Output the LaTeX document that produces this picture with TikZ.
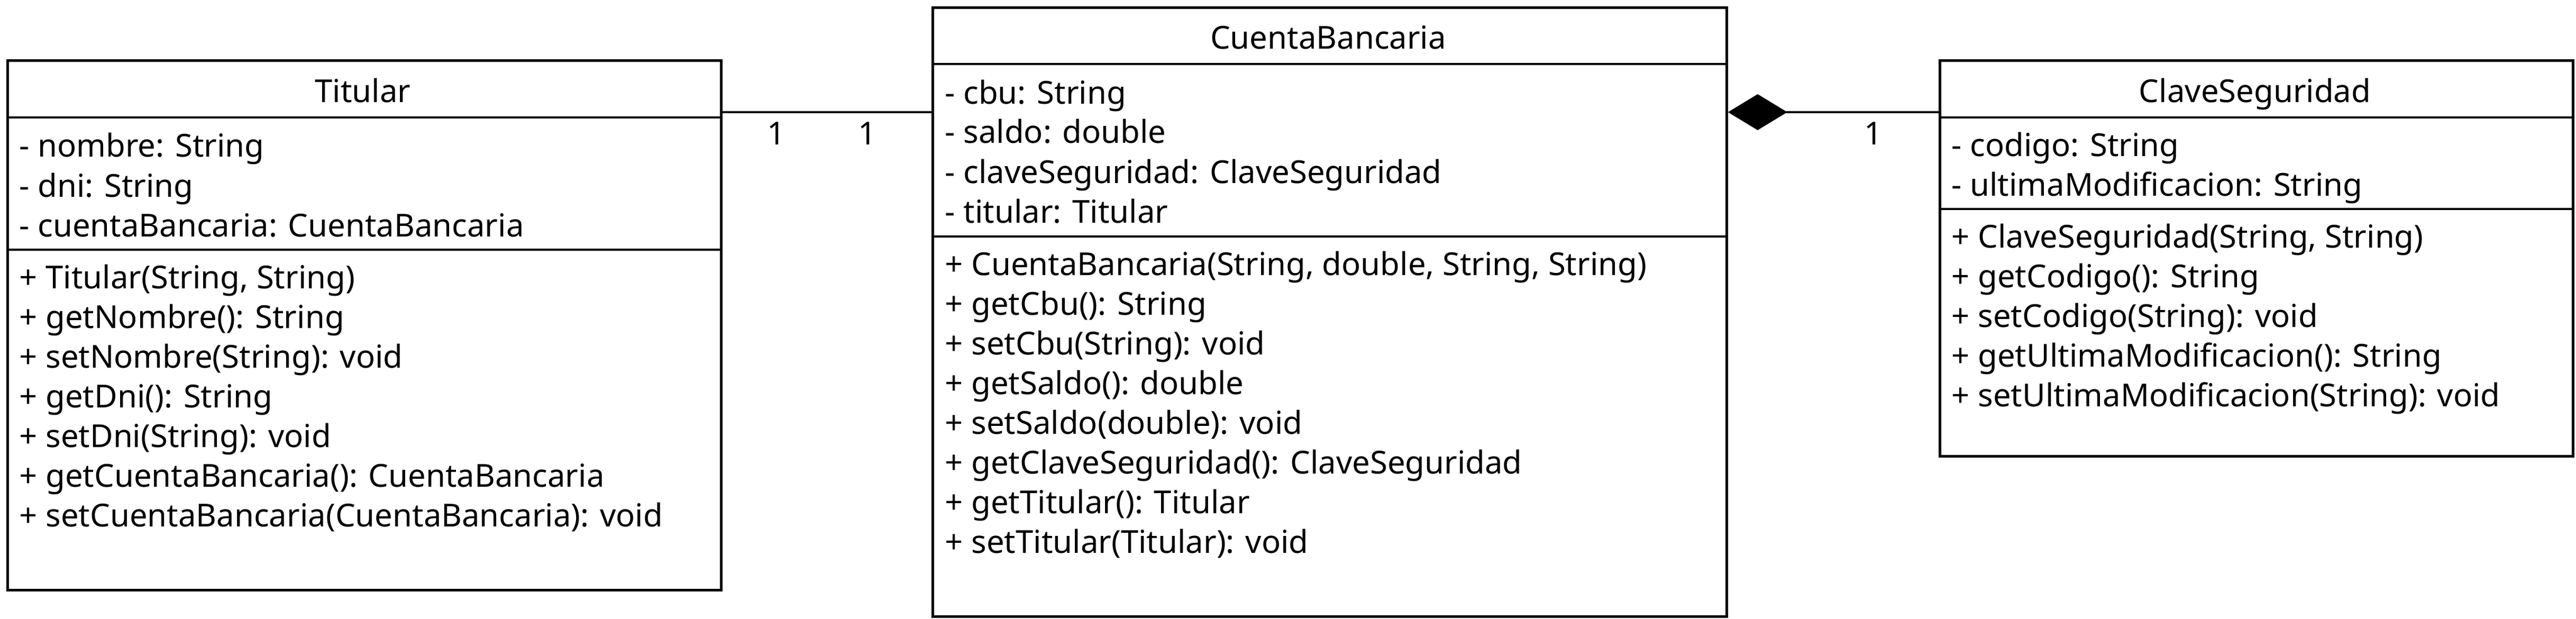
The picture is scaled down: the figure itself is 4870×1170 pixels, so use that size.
\documentclass[tikz,border=0pt]{standalone}
\usepackage{fontspec}
\setmainfont{Noto Sans}
\usepackage{tikz}
\usetikzlibrary{arrows.meta}

\tikzset{
  classbox/.style={draw, line width=1.4pt, anchor=north west, inner sep=0pt},
  classname/.style={anchor=base, inner sep=0pt},
  member/.style={anchor=base west, inner sep=0pt},
  mult/.style={anchor=base, inner sep=0pt},
  sepline/.style={line width=1.4pt},
  assoc/.style={line width=1.4pt},
  compo/.style={line width=1.4pt, -{Diamond[length=1.12cm, width=0.68cm]}}
}

\begin{document}
\begin{tikzpicture}
  [x=0.01cm, y=-0.01cm, font=\fontsize{17}{20}\selectfont] % coordinates are pixels of the picture
  \useasboundingbox (0,0) rectangle (4870,1170);

  % Titular
  \node[classbox, minimum width=13.48cm, minimum height=10cm] (tit) at (12,112) {};
  \node[classname] (tit-name) at (686,193) {Titular};
  \draw[sepline] (tit.west |- 0,222) -- (tit.east |- 0,222);
  \node[member] (tit-a1) at (36,297) {- nombre: String};
  \node[member] (tit-a2) at (36,372) {- dni: String};
  \node[member] (tit-a3) at (36,447) {- cuentaBancaria: CuentaBancaria};
  \draw[sepline] (tit.west |- 0,472) -- (tit.east |- 0,472);
  \node[member] (tit-m1) at (36,545) {+ Titular(String, String)};
  \node[member] (tit-m2) at (36,620) {+ getNombre(): String};
  \node[member] (tit-m3) at (36,695) {+ setNombre(String): void};
  \node[member] (tit-m4) at (36,770) {+ getDni(): String};
  \node[member] (tit-m5) at (36,845) {+ setDni(String): void};
  \node[member] (tit-m6) at (36,920) {+ getCuentaBancaria(): CuentaBancaria};
  \node[member] (tit-m7) at (36,995) {+ setCuentaBancaria(CuentaBancaria): void};

  % CuentaBancaria
  \node[classbox, minimum width=15cm, minimum height=11.5cm] (cb) at (1761,12) {};
  \node[classname] (cb-name) at (2511,93) {CuentaBancaria};
  \draw[sepline] (cb.west |- 0,121) -- (cb.east |- 0,121);
  \node[member] (cb-a1) at (1786,196) {- cbu: String};
  \node[member] (cb-a2) at (1786,271) {- saldo: double};
  \node[member] (cb-a3) at (1786,346) {- claveSeguridad: ClaveSeguridad};
  \node[member] (cb-a4) at (1786,421) {- titular: Titular};
  \draw[sepline] (cb.west |- 0,447) -- (cb.east |- 0,447);
  \node[member] (cb-m1) at (1786,520) {+ CuentaBancaria(String, double, String, String)};
  \node[member] (cb-m2) at (1786,595) {+ getCbu(): String};
  \node[member] (cb-m3) at (1786,670) {+ setCbu(String): void};
  \node[member] (cb-m4) at (1786,745) {+ getSaldo(): double};
  \node[member] (cb-m5) at (1786,820) {+ setSaldo(double): void};
  \node[member] (cb-m6) at (1786,895) {+ getClaveSeguridad(): ClaveSeguridad};
  \node[member] (cb-m7) at (1786,970) {+ getTitular(): Titular};
  \node[member] (cb-m8) at (1786,1045) {+ setTitular(Titular): void};

  % ClaveSeguridad
  \node[classbox, minimum width=11.96cm, minimum height=7.48cm] (cs) at (3665,112) {};
  \node[classname] (cs-name) at (4263,193) {ClaveSeguridad};
  \draw[sepline] (cs.west |- 0,222) -- (cs.east |- 0,222);
  \node[member] (cs-a1) at (3689,295) {- codigo: String};
  \node[member] (cs-a2) at (3689,370) {- ultimaModificacion: String};
  \draw[sepline] (cs.west |- 0,395) -- (cs.east |- 0,395);
  \node[member] (cs-m1) at (3689,468) {+ ClaveSeguridad(String, String)};
  \node[member] (cs-m2) at (3689,543) {+ getCodigo(): String};
  \node[member] (cs-m3) at (3689,618) {+ setCodigo(String): void};
  \node[member] (cs-m4) at (3689,693) {+ getUltimaModificacion(): String};
  \node[member] (cs-m5) at (3689,768) {+ setUltimaModificacion(String): void};

  % relations
  \draw[assoc] (tit.east |- 0,212) -- (cb.west |- 0,212);
  \node[mult] (m-tit) at (1468,274) {1};
  \node[mult] (m-cb) at (1640,274) {1};

  \draw[compo] (cs.west |- 0,212) -- (cb.east |- 0,212);
  \node[mult] (m-cs) at (3542,274) {1};

\end{tikzpicture}
\end{document}
